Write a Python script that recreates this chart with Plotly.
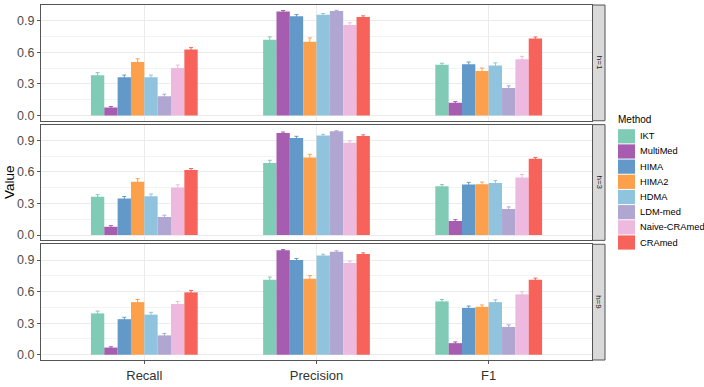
import plotly.graph_objects as go

methods = ["IKT", "MultiMed", "HIMA", "HIMA2", "HDMA", "LDM-med", "Naive-CRAmed", "CRAmed"]
colors = ["#7FCBB6", "#A65DB0", "#6399C9", "#FDA04C", "#90C3DD", "#B0A6D2", "#EDB9DF", "#F7635A"]
metrics = ["Recall", "Precision", "F1"]
horizons = ["h=1", "h=3", "h=9"]

# values[method] = [Recall, Precision, F1]
values_h1 = [
    [0.382, 0.719, 0.481],
    [0.075, 0.988, 0.120],
    [0.364, 0.944, 0.488],
    [0.509, 0.700, 0.423],
    [0.364, 0.957, 0.475],
    [0.182, 0.994, 0.262],
    [0.451, 0.861, 0.534],
    [0.627, 0.935, 0.731],
]
errors_h1 = [
    [0.025, 0.028, 0.015],
    [0.010, 0.010, 0.012],
    [0.020, 0.015, 0.020],
    [0.030, 0.037, 0.028],
    [0.020, 0.012, 0.025],
    [0.020, 0.006, 0.020],
    [0.028, 0.020, 0.028],
    [0.018, 0.012, 0.015],
]
values_h3 = [
    [0.364, 0.686, 0.465],
    [0.080, 0.970, 0.135],
    [0.349, 0.924, 0.481],
    [0.508, 0.738, 0.484],
    [0.370, 0.946, 0.496],
    [0.171, 0.986, 0.248],
    [0.453, 0.878, 0.548],
    [0.618, 0.943, 0.725],
]
errors_h3 = [
    [0.020, 0.025, 0.015],
    [0.010, 0.010, 0.012],
    [0.018, 0.015, 0.020],
    [0.028, 0.030, 0.020],
    [0.020, 0.012, 0.022],
    [0.018, 0.006, 0.020],
    [0.025, 0.018, 0.028],
    [0.015, 0.010, 0.012],
]
values_h9 = [
    [0.393, 0.713, 0.507],
    [0.068, 0.992, 0.110],
    [0.338, 0.900, 0.445],
    [0.500, 0.722, 0.455],
    [0.381, 0.943, 0.500],
    [0.184, 0.980, 0.264],
    [0.482, 0.872, 0.574],
    [0.593, 0.958, 0.713],
]
errors_h9 = [
    [0.022, 0.025, 0.018],
    [0.008, 0.008, 0.012],
    [0.018, 0.015, 0.018],
    [0.025, 0.030, 0.018],
    [0.022, 0.012, 0.022],
    [0.018, 0.008, 0.020],
    [0.025, 0.018, 0.025],
    [0.018, 0.010, 0.015],
]
all_values = [values_h1, values_h3, values_h9]
all_errors = [errors_h1, errors_h3, errors_h9]

W, H = 704, 387
ML, MR, MT, MB = 41, 112, 4, 18
PW = W - ML - MR
PH = H - MT - MB


def px_x(px):
    return (px - ML) / PW


def px_y(py):
    return (H - MB - py) / PH


panel_px = [(4, 123), (127, 246), (250, 369)]

fig = go.Figure()
FONT = "Liberation Sans, Arial, sans-serif"
shapes = []
annotations = []

for r, (vals, errs) in enumerate(zip(all_values, all_errors)):
    xa = "x" if r == 0 else f"x{r+1}"
    ya = "y" if r == 0 else f"y{r+1}"
    for i, m in enumerate(methods):
        fig.add_trace(go.Bar(
            x=metrics, y=vals[i], name=m, marker_color=colors[i],
            marker_line_width=0,
            error_y=dict(type="data", array=errs[i], color=colors[i], thickness=1, width=2),
            xaxis=xa, yaxis=ya, showlegend=False,
        ))
    top, bot = panel_px[r]
    dom = [px_y(bot), px_y(top)]
    axis_common = dict(showline=True, mirror=True, linecolor="#555555", linewidth=1)
    fig.layout[f"yaxis{'' if r == 0 else r+1}"] = dict(
        domain=dom, anchor=xa, range=[-0.05, 1.05],
        tickvals=[0, 0.3, 0.6, 0.9], ticktext=["0.0", "0.3", "0.6", "0.9"],
        ticks="outside", ticklen=3, tickcolor="#555555",
        tickfont=dict(size=12.5, color="#4D4D4D", family=FONT),
        showgrid=True, gridcolor="#EBEBEB", gridwidth=1, zeroline=False,
        minor=dict(dtick=0.15, tick0=0, showgrid=True, gridcolor="#F3F3F3", gridwidth=0.6),
        **axis_common,
    )
    fig.layout[f"xaxis{'' if r == 0 else r+1}"] = dict(
        domain=[0, 1], anchor=ya, type="category", categoryorder="array", categoryarray=metrics,
        range=[-0.6, 2.6], showgrid=True, gridcolor="#EBEBEB", gridwidth=1,
        showticklabels=(r == 2), ticks="outside" if r == 2 else "", ticklen=3, tickcolor="#555555",
        tickfont=dict(size=13, color="#333333", family=FONT),
        **axis_common,
    )
    # strip
    shapes.append(dict(type="rect", xref="paper", yref="paper",
                       x0=px_x(592.5), x1=px_x(605), y0=dom[0], y1=dom[1],
                       fillcolor="#D9D9D9", line=dict(color="#555555", width=1)))
    annotations.append(dict(text=horizons[r], xref="paper", yref="paper",
                            x=px_x(599), y=(dom[0] + dom[1]) / 2, showarrow=False,
                            xanchor="center", yanchor="middle",
                            textangle=90, font=dict(size=8, color="#1A1A1A", family=FONT)))

# y-axis title
annotations.append(dict(text="Value", xref="paper", yref="paper", x=px_x(9.5), y=px_y(186.5),
                        xanchor="center", yanchor="middle",
                        showarrow=False, textangle=-90, font=dict(size=13.5, color="#000000", family=FONT)))

# manual legend
annotations.append(dict(text="Method", xref="paper", yref="paper", x=px_x(616), y=px_y(122),
                        xanchor="left", yanchor="middle", showarrow=False,
                        font=dict(size=10, color="#000000", family=FONT)))
for i, m in enumerate(methods):
    cy = 139 + i * 15.6
    shapes.append(dict(type="rect", xref="paper", yref="paper",
                       x0=px_x(618), x1=px_x(635), y0=px_y(cy + 7.3), y1=px_y(cy - 7.3),
                       fillcolor=colors[i], line=dict(width=0)))
    annotations.append(dict(text=m, xref="paper", yref="paper", x=px_x(638), y=px_y(cy),
                            xanchor="left", yanchor="middle", showarrow=False,
                            font=dict(size=9.3, color="#000000", family=FONT)))

fig.update_layout(
    width=W, height=H, margin=dict(l=ML, r=MR, t=MT, b=MB),
    barmode="group", bargap=0.38, bargroupgap=0,
    plot_bgcolor="white", paper_bgcolor="white",
    shapes=shapes, annotations=annotations, showlegend=False,
    font=dict(family=FONT),
)

fig.write_html("out.html")
